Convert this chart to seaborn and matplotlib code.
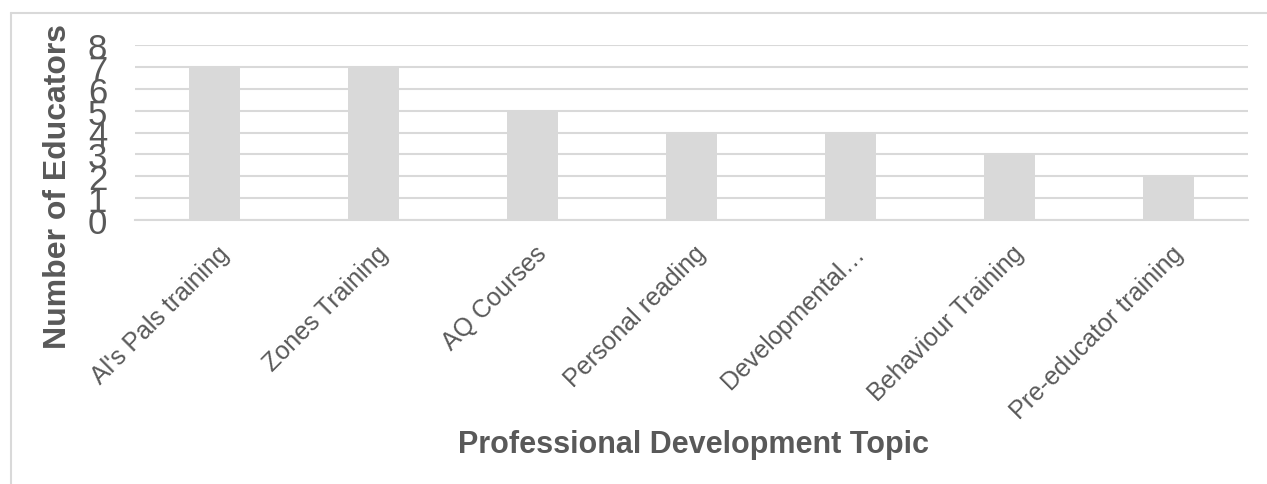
import matplotlib
matplotlib.use("Agg")
import matplotlib.pyplot as plt
import matplotlib.transforms as mtransforms
from matplotlib.lines import Line2D
import seaborn as sns
import pandas as pd

categories = ["Al's Pals training", "Zones Training", "AQ Courses", "Personal reading",
              "Developmental\u2026", "Behaviour Training", "Pre-educator training"]
values = [7, 7, 5, 4, 4, 3, 2]
yticks = [0, 1, 2, 3, 4, 5, 6, 7, 8]

sns.set_theme(style="white")
plt.rcParams['font.family'] = ['Liberation Sans', 'DejaVu Sans']

W, H = 1267, 485
fig = plt.figure(figsize=(W / 100, H / 100), dpi=100)
ax = fig.add_axes([135 / W, 1 - 221 / H, (1248 - 135) / W, (221 - 46) / H])

df = pd.DataFrame({"topic": categories, "count": values})
sns.barplot(data=df, x="topic", y="count", color="#d9d9d9", saturation=1,
            width=0.315, ax=ax, zorder=3, linewidth=0, edgecolor="none")

ax.set_ylim(0, 8)
ax.set_yticks(yticks)
ax.set_yticklabels([str(t) for t in yticks])
ax.yaxis.grid(True, color="#d9d9d9", linewidth=1.5, zorder=0)
ax.set_axisbelow(True)
for s in ["top", "right", "left"]:
    ax.spines[s].set_visible(False)
ax.spines["bottom"].set_color("#d9d9d9")
ax.spines["bottom"].set_linewidth(1.5)

ax.tick_params(axis="y", length=0, pad=20, labelsize=25, labelcolor="#595959")
ax.tick_params(axis="x", length=0, pad=15, labelsize=18, labelcolor="#595959")
ax.set_xlabel("")
ax.set_ylabel("")

offset = mtransforms.ScaledTranslation(2 / 100, 0, fig.dpi_scale_trans)
for lab in ax.get_xticklabels():
    lab.set_rotation(45)
    lab.set_ha("right")
    lab.set_va("top")
    lab.set_rotation_mode("anchor")
    lab.set_transform(lab.get_transform() + offset)

fig.text(58 / W, 1 - 187 / H, "Number of Educators", rotation=90, ha="center", va="center",
         fontsize=23, fontweight="bold", color="#595959")
fig.text(693 / W, 1 - 453 / H, "Professional Development Topic", ha="center", va="baseline",
         fontsize=22, fontweight="bold", color="#595959")

# chart area border (top and left visible)
fig.add_artist(Line2D([11 / W, 1.0], [1 - 14 / H, 1 - 14 / H], color="#d9d9d9", linewidth=1.5,
                      transform=fig.transFigure))
fig.add_artist(Line2D([11 / W, 11 / W], [1 - 14 / H, 0.0], color="#d9d9d9", linewidth=1.5,
                      transform=fig.transFigure))

fig.savefig("out.png", dpi=100)
